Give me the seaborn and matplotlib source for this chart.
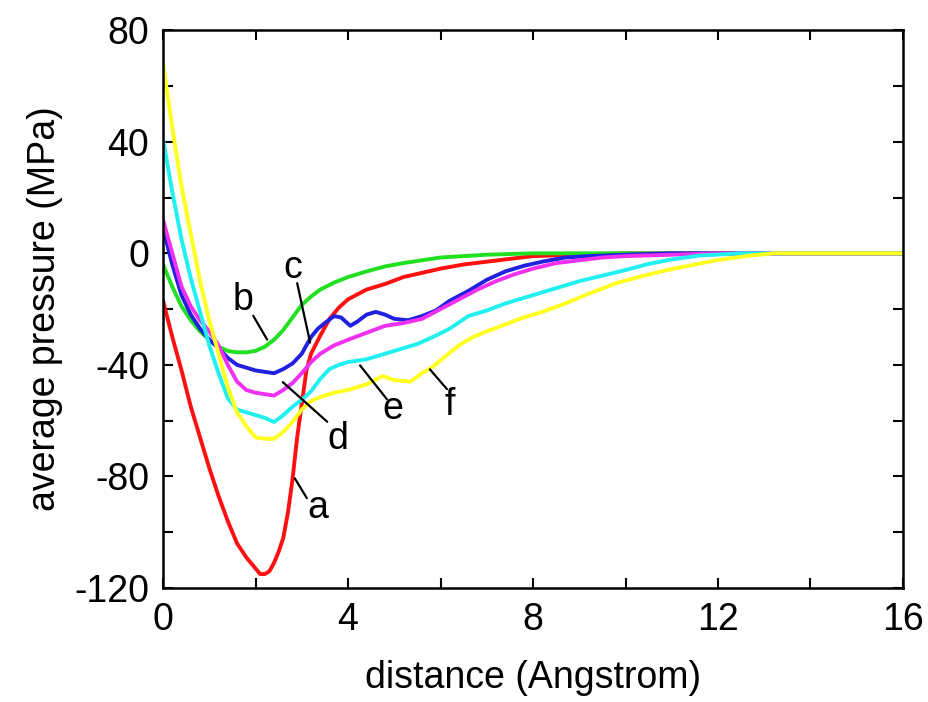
import matplotlib
matplotlib.use("Agg")
import matplotlib.pyplot as plt
from matplotlib.ticker import MultipleLocator
import seaborn as sns
import pandas as pd

# curve a (red)
x_a = [0, 0.2, 0.4, 0.6, 0.8, 1.0, 1.2, 1.4, 1.6, 1.8, 2.0, 2.1, 2.2, 2.3, 2.4, 2.5,
       2.6, 2.7, 2.8, 2.9, 3.0, 3.1, 3.2, 3.4, 3.6, 3.8, 4.0, 4.4, 4.8, 5.2, 5.6,
       6.0, 6.5, 7.0, 7.5, 8.0, 9, 10, 11, 12, 13, 14, 15, 16]
y_a = [-17, -30, -42, -55, -66, -77, -87, -96, -104, -109, -113, -115, -115, -114, -111, -107,
       -102, -93, -81, -66, -54, -42, -36, -29.5, -23.5, -19.5, -16.5, -13, -11, -8.5, -7,
       -5.5, -4, -3, -2, -1, -0.5, 0, 0, 0, 0, 0, 0, 0]

# curve b (green)
x_b = [0, 0.2, 0.4, 0.6, 0.8, 1.0, 1.2, 1.4, 1.6, 1.8, 2.0, 2.2, 2.4, 2.6, 2.8, 3.0,
       3.2, 3.4, 3.7, 4.0, 4.4, 4.8, 5.2, 5.6, 6.0, 6.5, 7, 8, 10, 12, 14, 16]
y_b = [-4, -12, -19, -24, -28, -31, -33.5, -35, -35.5, -35.5, -35, -33.5, -31, -27.5, -23, -18.5,
       -15.5, -13, -10.5, -8.5, -6.5, -4.7, -3.5, -2.5, -1.5, -1, -0.5, 0, 0, 0, 0, 0]

# curve c (blue)
x_c = [0, 0.2, 0.4, 0.6, 0.8, 1.0, 1.2, 1.4, 1.6, 1.8, 2.0, 2.2, 2.4, 2.6, 2.8, 3.0,
       3.1, 3.2, 3.35, 3.5, 3.7, 3.85, 4.05, 4.2, 4.4, 4.6, 4.8, 5.0, 5.3, 5.6, 5.9,
       6.2, 6.6, 7.0, 7.4, 7.8, 8.2, 8.7, 9.2, 10, 11, 12, 14, 16]
y_c = [9, -4, -15, -22, -27, -31, -34, -37.5, -40, -41, -42, -42.5, -43, -41.5, -39.5, -36,
       -33, -30, -27, -25, -22.5, -23, -26, -24.5, -22, -21, -22, -23.5, -24, -22.5, -20.5,
       -17, -13.5, -9.5, -6.5, -4.5, -3, -1.5, -1, -0.5, 0, 0, 0, 0]

# curve d (magenta)
x_d = [0, 0.2, 0.4, 0.6, 0.8, 1.0, 1.2, 1.4, 1.6, 1.8, 2.0, 2.2, 2.4, 2.6, 2.8, 3.0,
       3.2, 3.4, 3.7, 4.0, 4.4, 4.8, 5.2, 5.6, 6.0, 6.4, 6.8, 7.2, 7.6, 8.0, 8.5,
       9.0, 9.5, 10, 11, 12, 14, 16]
y_d = [12, 0, -12, -19, -24, -28, -33, -40, -46, -49, -50, -50.5, -51, -49, -46.5, -43,
       -39, -36, -33, -31, -28.5, -26, -25, -23.5, -20, -16.5, -13, -10, -7.5, -5.5, -3.5,
       -2.5, -1.5, -1, -0.5, 0, 0, 0]

# curve e (cyan)
x_e = [0, 0.2, 0.4, 0.6, 0.8, 1.0, 1.2, 1.4, 1.6, 1.8, 2.0, 2.2, 2.4, 2.6, 2.8, 3.0,
       3.2, 3.4, 3.6, 3.8, 4.0, 4.4, 4.8, 5.1, 5.5, 5.9, 6.2, 6.6, 7.0, 7.4, 7.8,
       8.4, 9.0, 9.5, 10.0, 10.5, 11.0, 11.6, 12.5, 14, 16]
y_e = [41, 22, 5, -9, -21, -33, -43, -52, -56, -57, -58, -59, -60.5, -58, -55, -52.5,
       -49.5, -45, -41.5, -40, -39, -38, -36, -34.5, -32.5, -29.5, -27, -22.5, -20.5, -18, -16,
       -13, -10, -8, -6, -3.8, -2.2, -0.8, 0, 0, 0]

# curve f (yellow)
x_f = [0, 0.2, 0.4, 0.6, 0.8, 1.0, 1.2, 1.4, 1.6, 1.8, 2.0, 2.2, 2.4, 2.6, 2.8, 3.0,
       3.2, 3.4, 3.7, 4.0, 4.4, 4.75, 5.0, 5.35, 5.6, 5.85, 6.1, 6.4, 6.7, 7.0, 7.4,
       7.8, 8.2, 8.7, 9.2, 9.8, 10.4, 10.9, 11.5, 12.0, 12.6, 13.2, 14, 16]
y_f = [68, 45, 24, 7, -10, -24, -36, -48, -57, -62, -66, -66.5, -66.5, -64, -60.5, -56,
       -53, -51.5, -50, -49, -47, -44, -45.5, -46, -43, -40.5, -37, -33, -30, -28, -25.5,
       -23, -21, -18, -14.5, -10.7, -8, -6, -4, -2.4, -1, 0, 0, 0]

curves = [("a", x_a, y_a, "#ff1010"), ("b", x_b, y_b, "#20e020"),
          ("c", x_c, y_c, "#2020e0"), ("d", x_d, y_d, "#f030f0"),
          ("e", x_e, y_e, "#20f0f0"), ("f", x_f, y_f, "#ffff20")]

# label text position, leader start, leader end
labels = {"a": ((3.35, -91.4), (2.85, -80.7), (3.11, -87.8)),
          "b": ((1.73, -16.7), (1.95, -22.4), (2.25, -30.9)),
          "c": ((2.81, -5.3), (2.90, -10.7), (3.18, -32)),
          "d": ((3.78, -66.5), (2.59, -46.2), (3.55, -60.4)),
          "e": ((4.97, -55.8), (4.26, -40.2), (4.84, -52.3)),
          "f": ((6.2, -54.4), (5.77, -41.6), (6.14, -48.7))}

sns.set_style("ticks")
plt.rcParams['font.family'] = ['Liberation Sans', 'DejaVu Sans']
plt.rcParams['axes.unicode_minus'] = False
plt.rcParams['text.color'] = 'black'
plt.rcParams['axes.labelcolor'] = 'black'
plt.rcParams['xtick.color'] = 'black'
plt.rcParams['ytick.color'] = 'black'
plt.rcParams['axes.edgecolor'] = 'black'

fig = plt.figure(figsize=(9.29, 7.02), dpi=100)
ax = fig.add_axes([0.1755, 0.1624, 0.7965, 0.7946])

for name, xs, ys, col in curves:
    d = pd.DataFrame({"x": xs, "y": ys})
    sns.lineplot(data=d, x="x", y="y", color=col, linewidth=2.8, sort=False,
                 estimator=None, ax=ax)

for name, (tpos, p0, p1) in labels.items():
    ax.plot([p0[0], p1[0]], [p0[1], p1[1]], color="black", linewidth=1.6)
    ax.text(tpos[0], tpos[1], name, fontsize=27, ha="center", va="center")

ax.set_xlim(0, 16)
ax.set_ylim(-120, 80)
ax.xaxis.set_major_locator(MultipleLocator(4))
ax.xaxis.set_minor_locator(MultipleLocator(2))
ax.yaxis.set_major_locator(MultipleLocator(40))
ax.yaxis.set_minor_locator(MultipleLocator(20))
ax.tick_params(which="both", direction="in", top=True, right=True, length=7, width=1.5,
               labelsize=27, pad=10)
for s in ax.spines.values():
    s.set_linewidth(1.8)
ax.set_xlabel("distance (Angstrom)", fontsize=27, labelpad=16)
ax.set_ylabel("average pressure (MPa)", fontsize=27, labelpad=8)

fig.savefig("out.png", dpi=100)
